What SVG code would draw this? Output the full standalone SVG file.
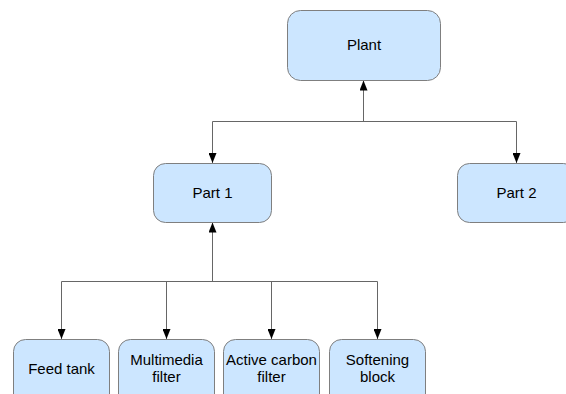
<svg xmlns="http://www.w3.org/2000/svg" width="566" height="394" viewBox="0 0 566 394">
  <style>
    .box { fill: #cce6ff; stroke: #7f7f7f; stroke-width: 1; }
    .lbl { font-family: "Liberation Sans", Arial, sans-serif; font-size: 15px; fill: #000; text-anchor: middle; }
    .wire { fill: none; stroke: #666; stroke-width: 1; }
  </style>
  <defs>
    <marker id="tip" viewBox="0 0 10 8" refX="10" refY="4" markerWidth="10" markerHeight="8" markerUnits="userSpaceOnUse" orient="auto">
      <path d="M0,0 L10,4 L0,8 Z" fill="#000"/>
    </marker>
  </defs>
  <rect width="566" height="394" fill="#fff"/>

  <g id="connectors">
    <!-- upper tier -->
    <path class="wire" d="M212.5,121.5 H516.5"/>
    <path class="wire" d="M363.5,121.5 V80.5" marker-end="url(#tip)"/>
    <path class="wire" d="M212.5,121.5 V163" marker-end="url(#tip)"/>
    <path class="wire" d="M516.5,121.5 V163" marker-end="url(#tip)"/>
    <!-- lower tier -->
    <path class="wire" d="M61.5,281.5 H377.5"/>
    <path class="wire" d="M212.5,281.5 V222.5" marker-end="url(#tip)"/>
    <path class="wire" d="M61.5,281.5 V339" marker-end="url(#tip)"/>
    <path class="wire" d="M166.5,281.5 V339" marker-end="url(#tip)"/>
    <path class="wire" d="M271.5,281.5 V339" marker-end="url(#tip)"/>
    <path class="wire" d="M377.5,281.5 V339" marker-end="url(#tip)"/>
  </g>

  <g id="plant">
    <rect class="box" x="287.5" y="10.5" width="153" height="70" rx="13"/>
    <text class="lbl" x="364" y="50">Plant</text>
  </g>
  <g id="part1">
    <rect class="box" x="153.5" y="163.5" width="118" height="59" rx="12"/>
    <text class="lbl" x="212.5" y="198">Part 1</text>
  </g>
  <g id="part2">
    <rect class="box" x="457.5" y="163.5" width="118" height="59" rx="12"/>
    <text class="lbl" x="516.5" y="198">Part 2</text>
  </g>
  <g id="feed-tank">
    <rect class="box" x="13.5" y="339.5" width="96" height="70" rx="12"/>
    <text class="lbl" x="61.5" y="374">Feed tank</text>
  </g>
  <g id="multimedia-filter">
    <rect class="box" x="118.5" y="339.5" width="96" height="70" rx="12"/>
    <text class="lbl" x="166.5" y="365">Multimedia</text>
    <text class="lbl" x="166.5" y="382">filter</text>
  </g>
  <g id="active-carbon-filter">
    <rect class="box" x="223.5" y="339.5" width="96" height="70" rx="12"/>
    <text class="lbl" x="271.5" y="365">Active carbon</text>
    <text class="lbl" x="271.5" y="382">filter</text>
  </g>
  <g id="softening-block">
    <rect class="box" x="329.5" y="339.5" width="96" height="70" rx="12"/>
    <text class="lbl" x="377.5" y="365">Softening</text>
    <text class="lbl" x="377.5" y="382">block</text>
  </g>
</svg>
